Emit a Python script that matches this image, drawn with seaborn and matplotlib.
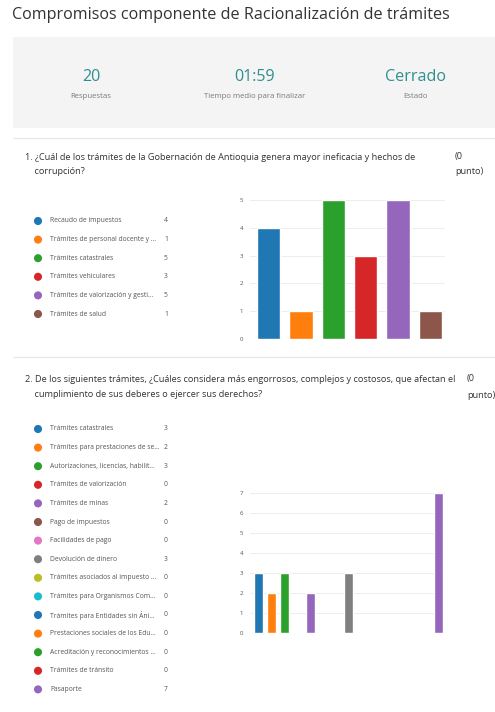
import matplotlib
matplotlib.use("Agg")
import matplotlib.pyplot as plt
import seaborn as sns
import pandas as pd

# ---- data ----
title = "Compromisos componente de Racionalización de trámites"
stat_values = ["20", "01:59", "Cerrado"]
stat_labels = ["Respuestas", "Tiempo medio para finalizar", "Estado"]

q1_text = ["1. ¿Cuál de los trámites de la Gobernación de Antioquia genera mayor ineficacia y hechos de",
           "    corrupción?"]
q1_categories = ["Recaudo de impuestos", "Trámites de personal docente y ...", "Trámites catastrales",
                 "Trámites vehiculares", "Trámites de valorización y gesti...", "Trámites de salud"]
q1_values = [4, 1, 5, 3, 5, 1]

q2_text = ["2. De los siguientes trámites, ¿Cuáles considera más engorrosos, complejos y costosos, que afectan el",
           "    cumplimiento de sus deberes o ejercer sus derechos?"]
q2_categories = ["Trámites catastrales", "Trámites para prestaciones de se...", "Autorizaciones, licencias, habilit...",
                 "Trámites de valorización", "Trámites de minas", "Pago de impuestos", "Facilidades de pago",
                 "Devolución de dinero", "Trámites asociados al impuesto ...", "Trámites para Organismos Com...",
                 "Trámites para Entidades sin Áni...", "Prestaciones sociales de los Edu...",
                 "Acreditación y reconocimientos ...", "Trámites de tránsito", "Pasaporte"]
q2_values = [3, 2, 3, 0, 2, 0, 0, 3, 0, 0, 0, 0, 0, 0, 7]

points_label = ["(0", "punto)"]

# ---- style ----
sns.set_theme(style="white")
plt.rcParams['font.family'] = ['Open Sans', 'DejaVu Sans']

W, H = 495, 712
fig = plt.figure(figsize=(W / 100, H / 100), dpi=100)
fig.patch.set_facecolor("white")

tab10 = sns.color_palette("tab10", 10)
def colors_for(n):
    return [tab10[i % 10] for i in range(n)]

# overlay axes in pixel coordinates
ov = fig.add_axes([0, 0, 1, 1])
ov.set_xlim(0, W)
ov.set_ylim(H, 0)
ov.axis("off")

TXT = "#333333"
GREY = "#7a7a7a"
TEAL = "#2f8f8f"

ov.text(12, 15, title, fontsize=11.6, color=TXT, va="center", ha="left")
ov.add_patch(plt.Rectangle((13, 37), W - 13, 91, color="#f4f4f4", lw=0, zorder=0))
for x, v, l in zip([91, 255, 416], stat_values, stat_labels):
    ov.text(x, 77, v, fontsize=11.6, color=TEAL, ha="center", va="center")
    ov.text(x, 96, l, fontsize=5.6, color=GREY, ha="center", va="center")

ov.plot([13, W], [138, 138], color="#e6e6e6", lw=0.8)
ov.plot([13, W], [357, 357], color="#e6e6e6", lw=0.8)

def question(lines, y0, ptsx):
    for i, t in enumerate(lines):
        ov.text(25, y0 + i * 14.5, t, fontsize=6.6, color=TXT, ha="left", va="center")
    ov.text(ptsx, y0 - 1, points_label[0], fontsize=6.6, color=TXT, ha="left", va="center")
    ov.text(ptsx, y0 + 15, points_label[1], fontsize=6.6, color=TXT, ha="left", va="center")

question(q1_text, 157, 455)
question(q2_text, 380, 467)

def legend(cats, vals, y0, dy):
    cols = colors_for(len(cats))
    for i, (c, v) in enumerate(zip(cats, vals)):
        y = y0 + i * dy
        ov.scatter([38], [y], s=34, color=cols[i], edgecolors="none")
        ov.text(50, y, c, fontsize=4.9, color="#555555", ha="left", va="center")
        ov.text(166, y, str(v), fontsize=4.9, color="#555555", ha="center", va="center")

legend(q1_categories, q1_values, 221, 18.6)
legend(q2_categories, q2_values, 429, 18.6)

def bars(cats, vals, box, xlim, ymax, width):
    x0, ytop, x1, ybot = box
    ax = fig.add_axes([x0 / W, 1 - ybot / H, (x1 - x0) / W, (ybot - ytop) / H])
    df = pd.DataFrame({"cat": cats, "val": vals})
    sns.barplot(data=df, x="cat", y="val", hue="cat", palette=colors_for(len(cats)),
                legend=False, ax=ax, width=width, saturation=1, order=cats, hue_order=cats)
    ax.set_xlim(*xlim)
    ax.set_ylim(0, ymax)
    ax.set_yticks(range(ymax + 1))
    ax.set_xticks([])
    ax.set_xlabel("")
    ax.set_ylabel("")
    ax.yaxis.grid(True, color="#ededed", lw=0.7)
    ax.set_axisbelow(True)
    for s in ax.spines.values():
        s.set_visible(False)
    ax.tick_params(axis="y", length=0, labelsize=4.4, labelcolor="#555555", pad=5)
    ax.patch.set_alpha(0)

bars(q1_categories, q1_values, (250, 200, 445, 339), (-0.57, 5.45), 5, 0.72)
bars(q2_categories, q2_values, (250, 493, 445, 633), (-0.7, 14.47), 7, 0.7)

fig.savefig("out.png", dpi=100)
